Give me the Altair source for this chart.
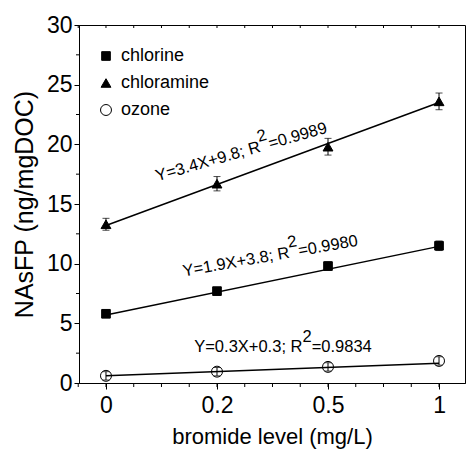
import json
import altair as alt
import pandas as pd

# ---- data ----
bromide = ["0", "0.2", "0.5", "1"]
cat_idx = [0, 1, 2, 3]
series = ["chlorine", "chloramine", "ozone"]
chlorine = [5.8, 7.7, 9.8, 11.5]
chlorine_err = [0.3, 0.3, 0.35, 0.4]
chloramine = [13.3, 16.7, 19.8, 23.6]
chloramine_err = [0.5, 0.6, 0.7, 0.7]
ozone = [0.6, 0.95, 1.35, 1.85]
ozone_err = [0.35, 0.35, 0.35, 0.35]

# fitted lines (value at first and last bromide level)
fit_start = [5.7, 13.2, 0.6]
fit_end = [11.45, 23.5, 1.65]

# regression annotations
eq_text = ["Y=1.9X+3.8; R", "Y=3.4X+9.8; R", "Y=0.3X+0.3; R"]
sup_text = ["2", "2", "2"]
r2_text = ["=0.9980", "=0.9989", "=0.9834"]
eq_x = [1.66, 1.40, 1.77]
eq_y = [10.5, 19.4, 2.6]
eq_angle = [350, 344, 0]

# axis tick positions
x_minor = [i * 0.25 for i in range(-1, 13)]
y_minor = [2.5, 7.5, 12.5, 17.5, 22.5, 27.5]

# ---- tables ----
rows = []
for s, vals, errs in zip(series, [chlorine, chloramine, ozone],
                         [chlorine_err, chloramine_err, ozone_err]):
    for i, v, e in zip(cat_idx, vals, errs):
        rows.append({"series": s, "idx": i, "value": v, "lo": v - e, "hi": v + e})
df = pd.DataFrame(rows)

fit_rows = []
for s, a, b in zip(series, fit_start, fit_end):
    fit_rows.append({"series": s, "idx": cat_idx[0], "value": a})
    fit_rows.append({"series": s, "idx": cat_idx[-1], "value": b})
fit_df = pd.DataFrame(fit_rows)

ann_df = pd.DataFrame({"x": eq_x, "y": eq_y, "t1": eq_text, "t2": sup_text,
                       "t3": r2_text, "angle": eq_angle})
xminor_df = pd.DataFrame({"q": x_minor})
yminor_df = pd.DataFrame({"v": y_minor})

W, H = 386, 358
FONT = "Liberation Sans"
AFS = 16.5

xscale = alt.Scale(domain=[-0.243, 3.234], nice=False, zero=False)
yscale = alt.Scale(domain=[0, 30], nice=False, zero=False)

label_expr = json.dumps(bromide) + "[datum.value]"

xaxis = alt.Axis(values=cat_idx, labelExpr=label_expr, title="bromide level (mg/L)",
                 grid=False, tickSize=6, labelFontSize=23, titleFontSize=22,
                 labelPadding=5, titlePadding=9, titleFontWeight="normal",
                 labelFont=FONT, titleFont=FONT, labelFlush=False)
yaxis = alt.Axis(values=[0, 5, 10, 15, 20, 25, 30], title="NAsFP (ng/mgDOC)",
                 grid=False, tickSize=5, labelFontSize=23, titleFontSize=25,
                 labelPadding=2, titlePadding=9, titleFontWeight="normal",
                 labelFont=FONT, titleFont=FONT, labelFlush=False)

base = alt.Chart(df)

lines = alt.Chart(fit_df).mark_line(color="black", strokeWidth=1.5).encode(
    x=alt.X("idx:Q", scale=xscale, axis=xaxis),
    y=alt.Y("value:Q", scale=yscale, axis=yaxis),
    detail="series:N",
)

bars = base.mark_rule(color="black", strokeWidth=1).encode(
    x=alt.X("idx:Q", scale=xscale), y=alt.Y("lo:Q", scale=yscale), y2="hi:Q")
caps_lo = base.mark_tick(orient="horizontal", size=7, thickness=1, color="black").encode(
    x=alt.X("idx:Q", scale=xscale), y=alt.Y("lo:Q", scale=yscale))
caps_hi = base.mark_tick(orient="horizontal", size=7, thickness=1, color="black").encode(
    x=alt.X("idx:Q", scale=xscale), y=alt.Y("hi:Q", scale=yscale))

points = base.mark_point(filled=True, strokeWidth=1, opacity=1).encode(
    x=alt.X("idx:Q", scale=xscale),
    y=alt.Y("value:Q", scale=yscale),
    shape=alt.Shape("series:N", title=None,
                    scale=alt.Scale(domain=series, range=["square", "triangle-up", "circle"])),
    fill=alt.Fill("series:N", title=None,
                  scale=alt.Scale(domain=series, range=["black", "black", "transparent"])),
    stroke=alt.Stroke("series:N", title=None,
                      scale=alt.Scale(domain=series, range=["black", "black", "black"])),
    size=alt.Size("series:N", title=None,
                  scale=alt.Scale(domain=series, range=[75, 120, 70])),
)

ann = alt.Chart(ann_df)
t1 = ann.mark_text(align="right", baseline="alphabetic", fontSize=AFS, font=FONT, color="black").encode(
    x=alt.X("x:Q", scale=xscale), y=alt.Y("y:Q", scale=yscale), text="t1:N",
    angle=alt.Angle("angle:Q", scale=None))
t2 = ann.mark_text(align="left", baseline="alphabetic", fontSize=AFS, font=FONT, color="black",
                   dy=-10).encode(
    x=alt.X("x:Q", scale=xscale), y=alt.Y("y:Q", scale=yscale), text="t2:N",
    angle=alt.Angle("angle:Q", scale=None))
t3 = ann.mark_text(align="left", baseline="alphabetic", fontSize=AFS, font=FONT, color="black",
                   dx=9.2).encode(
    x=alt.X("x:Q", scale=xscale), y=alt.Y("y:Q", scale=yscale), text="t3:N",
    angle=alt.Angle("angle:Q", scale=None))

xm_bottom = alt.Chart(xminor_df).mark_rule(color="black", strokeWidth=1).encode(
    x=alt.X("q:Q", scale=xscale), y=alt.value(H), y2=alt.value(H + 4))
xm_top = alt.Chart(xminor_df).mark_rule(color="black", strokeWidth=1).encode(
    x=alt.X("q:Q", scale=xscale), y=alt.value(0), y2=alt.value(3))
ym_left = alt.Chart(yminor_df).mark_rule(color="black", strokeWidth=1).encode(
    y=alt.Y("v:Q", scale=yscale), x=alt.value(-3), x2=alt.value(0))

chart = alt.layer(
    lines, bars, caps_lo, caps_hi, points, t1, t2, t3, xm_bottom, xm_top, ym_left
).properties(
    width=W, height=H,
    autosize=alt.AutoSizeParams(type="none"),
    padding={"left": 79, "top": 25, "right": 2, "bottom": 73},
).configure(
    font=FONT, background="white"
).configure_view(
    stroke="black", strokeWidth=1, fill=None
).configure_axis(
    domainColor="black", tickColor="black", labelColor="black", titleColor="black",
    domainWidth=1, tickWidth=1,
).configure_legend(
    orient="none", legendX=18, legendY=22, padding=0, labelFontSize=18,
    labelFont=FONT, labelColor="black", labelOffset=6, rowPadding=9,
    symbolStrokeWidth=1,
)

chart.save("out.html", embed_options={"renderer": "svg", "actions": False})
